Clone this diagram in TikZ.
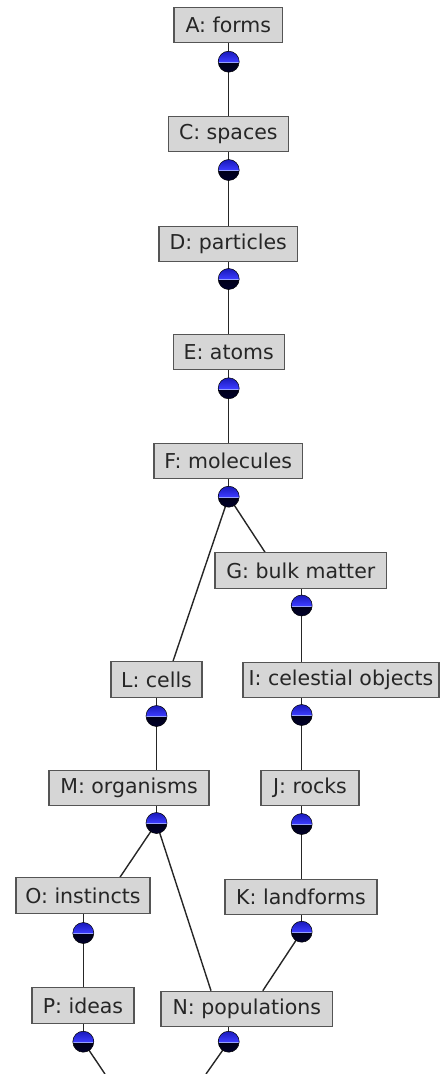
\documentclass[tikz,border=0pt]{standalone}
\usepackage{fontspec}
\setmainfont{DejaVu Sans}
\usetikzlibrary{backgrounds}
\definecolor{boxfill}{RGB}{214,214,214}
\definecolor{boxline}{RGB}{85,85,85}
\definecolor{balltop}{RGB}{25,25,185}
\definecolor{ballmid}{RGB}{60,60,255}
\definecolor{ballbot}{RGB}{0,0,45}
\definecolor{equator}{RGB}{150,160,255}
\tikzset{
  box/.style={draw=boxline, fill=boxfill, line width=1.1pt, minimum height=35.5pt,
    inner sep=0pt, text=black!85, font=\fontsize{20.5}{24}\selectfont},
  ball/.style={circle, minimum size=21pt, inner sep=0pt, draw=black, line width=0.5pt,
    path picture={
      \shade[top color=black, bottom color=ballbot]
        (path picture bounding box.west) rectangle (path picture bounding box.south east);
      \shade[top color=balltop, bottom color=ballmid]
        (path picture bounding box.north west) rectangle (path picture bounding box.east);
      \draw[equator, line width=0.8pt]
        ([yshift=-0.6pt]path picture bounding box.west) -- ([yshift=-0.6pt]path picture bounding box.east);
    }},
  link/.style={draw=black!85, line width=1.4pt}
}
\begin{document}
\begin{tikzpicture}[x=1pt, y=-1pt]
\useasboundingbox (0,0) rectangle (440,1074);
% boxes
\node[box, minimum width=108.7pt] (A) at (228.3,25) {A: forms};
\node[box, minimum width=120pt]   (C) at (228.3,134) {C: spaces};
\node[box, minimum width=138.7pt] (D) at (228.3,244) {D: particles};
\node[box, minimum width=110.7pt] (E) at (228.7,352) {E: atoms};
\node[box, minimum width=148.7pt] (F) at (228.3,461) {F: molecules};
\node[box, minimum width=171.7pt] (G) at (300.8,570.5) {G: bulk matter};
\node[box, minimum width=91pt]    (L) at (156.5,679.5) {L: cells};
\node[box, minimum width=196pt]   (I) at (341,680) {I: celestial objects};
\node[box, minimum width=160pt]   (M) at (129,788) {M: organisms};
\node[box, minimum width=98pt]    (J) at (310,788) {J: rocks};
\node[box, minimum width=152pt]   (K) at (301,897) {K: landforms};
\node[box, minimum width=134pt]   (O) at (83,895.5) {O: instincts};
\node[box, minimum width=102pt]   (P) at (83,1005.5) {P: ideas};
\node[box, minimum width=171.7pt] (N) at (246.8,1009) {N: populations};
% balls
\node[ball] (aB) at (228.7,61.7) {};
\node[ball] (cB) at (228.7,170) {};
\node[ball] (dB) at (228.7,279) {};
\node[ball] (eB) at (228.7,388.3) {};
\node[ball] (fB) at (228.7,496.7) {};
\node[ball] (gB) at (301.7,605.5) {};
\node[ball] (lB) at (156.5,716) {};
\node[ball] (iB) at (301.7,715) {};
\node[ball] (mB) at (156.5,823) {};
\node[ball] (jB) at (301.7,824) {};
\node[ball] (oB) at (83.3,933) {};
\node[ball] (kB) at (301.7,931.7) {};
\node[ball] (pB) at (83.3,1041.7) {};
\node[ball] (nB) at (228.7,1041.7) {};
\coordinate (pOut) at (105,1074);
\coordinate (nOut) at (206,1074);
\begin{scope}[on background layer]
% box to its ball
\foreach \b/\n in {aB/A, cB/C, dB/D, eB/E, fB/F, gB/G, lB/L, iB/I, mB/M, jB/J, oB/O, kB/K, pB/P, nB/N}
  \draw[link] (\b.center) -- (\b.center |- \n.south);
% ball to next box
\draw[link] (aB.center) -- (aB.center |- C.north);
\draw[link] (cB.center) -- (cB.center |- D.north);
\draw[link] (dB.center) -- (dB.center |- E.north);
\draw[link] (eB.center) -- (eB.center |- F.north);
\draw[link] (fB.center) -- ([xshift=-35.8pt]G.north);
\draw[link] (fB.center) -- ([xshift=16.5pt]L.north);
\draw[link] (gB.center) -- (gB.center |- I.north);
\draw[link] (lB.center) -- (lB.center |- M.north);
\draw[link] (iB.center) -- (iB.center |- J.north);
\draw[link] (mB.center) -- ([xshift=37pt]O.north);
\draw[link] (mB.center) -- ([xshift=-35.8pt]N.north);
\draw[link] (jB.center) -- (jB.center |- K.north);
\draw[link] (oB.center) -- (oB.center |- P.north);
\draw[link] (kB.center) -- ([xshift=16pt]N.north);
\draw[link] (pB.center) -- (pOut);
\draw[link] (nB.center) -- (nOut);
\end{scope}
\end{tikzpicture}
\end{document}
